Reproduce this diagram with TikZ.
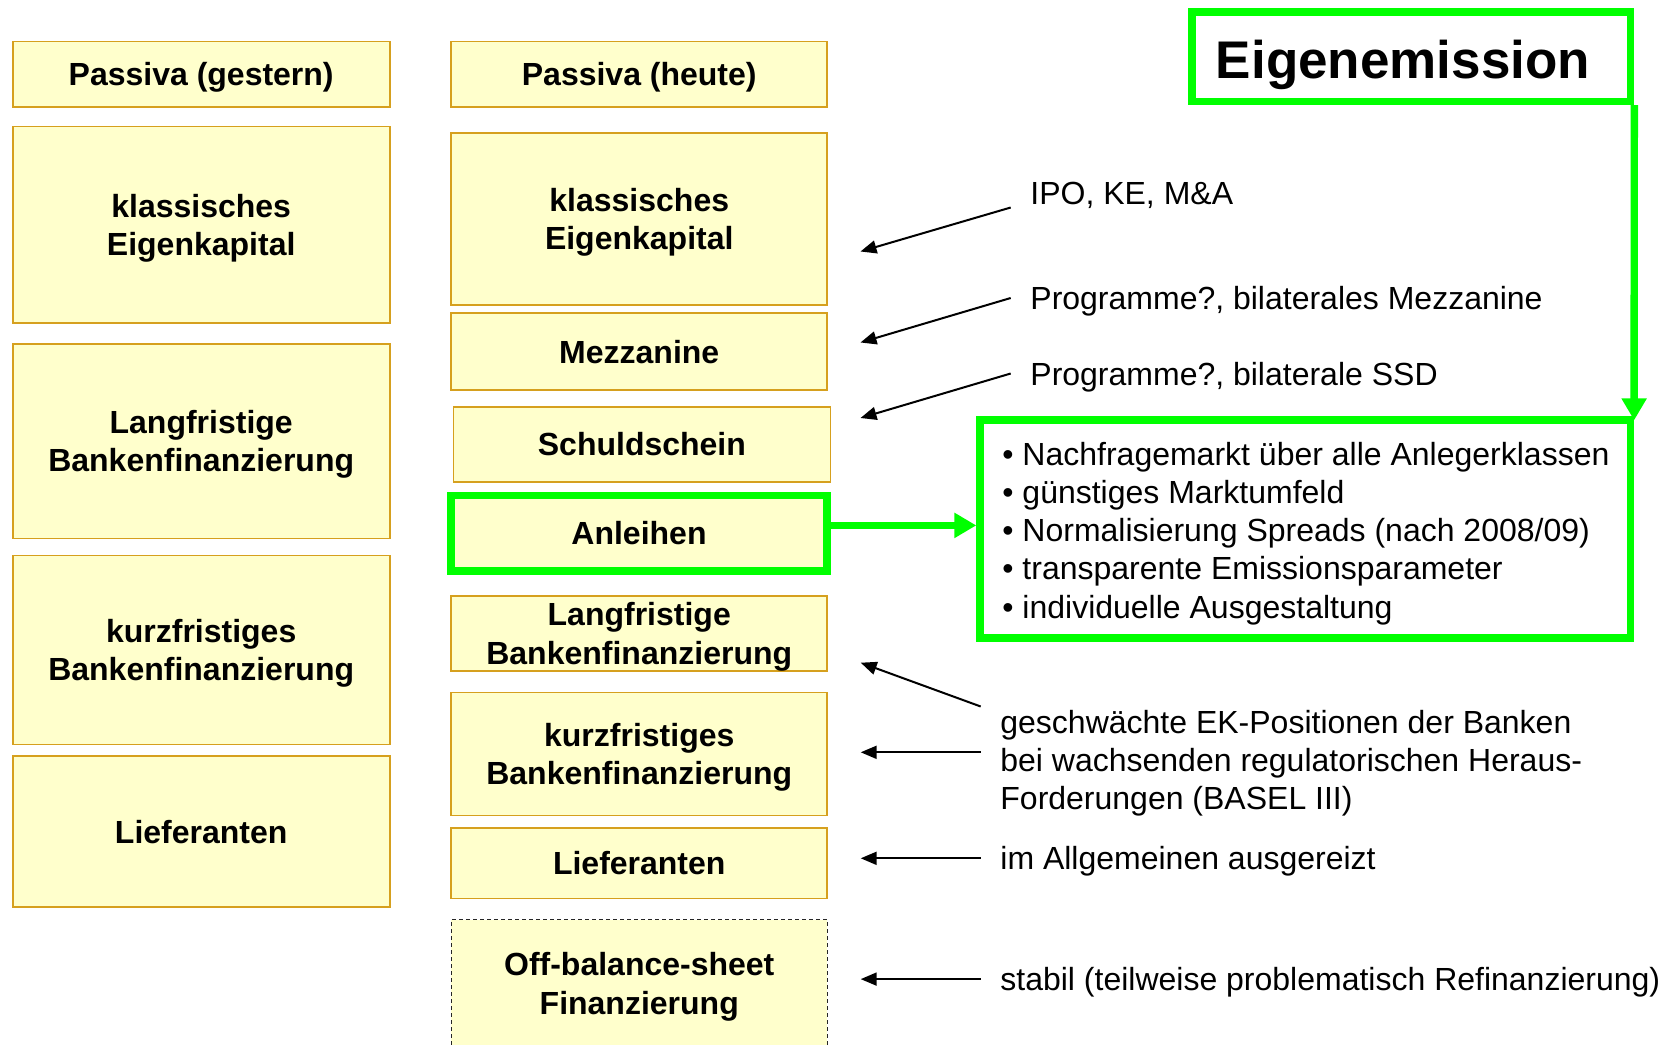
\documentclass[tikz,border=0pt]{standalone}
\usepackage{fontspec}
\setmainfont{Liberation Sans}
\usetikzlibrary{arrows.meta}
\definecolor{boxfill}{RGB}{255,255,204}
\definecolor{boxline}{RGB}{214,160,30}
\definecolor{grn}{RGB}{0,255,0}
\tikzset{
  pbox/.style={draw=boxline, line width=0.85pt, fill=boxfill, inner sep=0pt, align=center,
     text depth=-1.2pt, font=\bfseries\fontsize{16}{19.1}\selectfont},
  lcol/.style={pbox, minimum width=188.5pt},
  mcol/.style={pbox, minimum width=187.95pt},
  greenbox/.style={draw=grn, line width=3.8pt},
  lbl/.style={anchor=base west, inner sep=0pt, font=\fontsize{16}{19.1}\selectfont},
  barrow/.style={line width=1pt, -{Triangle[length=8pt,width=6.5pt]}},
  garrow/.style={draw=grn, line width=3.7pt, -{Triangle[length=11pt,width=12pt]}}
}
\begin{document}
\begin{tikzpicture}[x=0.5pt,y=-0.5pt]
\useasboundingbox (0,0) rectangle (1665,1044);
% left column
\node[lcol, minimum height=32.95pt] (LP) at (201.2,74.35) {Passiva (gestern)};
\node[lcol, minimum height=98.2pt] (LK) at (201.2,224.6) {klassisches\\Eigenkapital};
\node[lcol, minimum height=97.2pt] (LL) at (201.2,441.2) {Langfristige\\Bankenfinanzierung};
\node[lcol, minimum height=94.5pt] (LS) at (201.2,649.9) {kurzfristiges\\Bankenfinanzierung};
\node[lcol, minimum height=75.45pt] (LLi) at (201.2,831.45) {Lieferanten};
% middle column
\node[mcol, minimum height=32.95pt] (MP) at (639.25,74.35) {Passiva (heute)};
\node[mcol, minimum height=86.05pt] (MK) at (639.25,218.75) {klassisches\\Eigenkapital};
\node[mcol, minimum height=38.2pt] (MM) at (639.25,351.5) {Mezzanine};
\node[pbox, minimum width=188.5pt, minimum height=37.7pt] (MS) at (641.9,444.4) {Schuldschein};
\node[pbox, greenbox, minimum width=188.2pt, minimum height=37.85pt] (MA) at (639,533.4) {Anleihen};
\node[mcol, minimum height=37.7pt] (ML) at (639.25,633.4) {Langfristige\\Bankenfinanzierung};
\node[mcol, minimum height=61.55pt] (MKu) at (639.25,753.95) {kurzfristiges\\Bankenfinanzierung};
\node[mcol, minimum height=35.05pt] (MLi) at (639.25,863.35) {Lieferanten};
\node[mcol, draw=black!85, line width=0.6pt, dash pattern=on 2pt off 1.5pt, minimum height=63.7pt] (MO) at (639.25,983.3) {Off-balance-sheet\\Finanzierung};
% Eigenemission
\node[greenbox, fill=white, inner sep=0pt, minimum width=219.4pt, minimum height=44.8pt] (E) at (1411.1,56.5) {};
\node[anchor=base, inner sep=0pt, font=\bfseries\fontsize{26.5}{32}\selectfont] (Etxt) at (1403,78.3) {Eigenemission};
% bullet box
\node[greenbox, fill=white, inner sep=0pt, minimum width=325.1pt, minimum height=108.9pt] (B) at (1305.2,529) {};
\node[lbl] (b1) at (1002,465) {• Nachfragemarkt über alle Anlegerklassen};
\node[lbl] (b2) at (1002,503.25) {• günstiges Marktumfeld};
\node[lbl] (b3) at (1002,541.5) {• Normalisierung Spreads (nach 2008/09)};
\node[lbl] (b4) at (1002,579.75) {• transparente Emissionsparameter};
\node[lbl] (b5) at (1002,618) {• individuelle Ausgestaltung};
% green connectors
\draw[garrow] (E.south east) -- ([yshift=-2pt]B.north east);
\draw[garrow] ([yshift=4pt]MA.east) -- ([yshift=4pt]MA.east -| B.west);
% labels
\node[lbl] (t1) at (1030,204) {IPO, KE, M\&A};
\node[lbl] (t2) at (1030,309) {Programme?, bilaterales Mezzanine};
\node[lbl] (t3) at (1030,385) {Programme?, bilaterale SSD};
\node[lbl] (g1) at (1000,733) {geschwächte EK-Positionen der Banken};
\node[lbl] (g2) at (1000,771.5) {bei wachsenden regulatorischen Heraus-};
\node[lbl] (g3) at (1000,809.5) {Forderungen (BASEL III)};
\node[lbl] (t5) at (1000,869) {im Allgemeinen ausgereizt};
\node[lbl] (t6) at (1000,990) {stabil (teilweise problematisch Refinanzierung)};
% black arrows
\coordinate (a1s) at (1010.7,207.5); \coordinate (a1t) at (860.5,251.5);
\coordinate (a2s) at (1010.7,298);   \coordinate (a2t) at (860.5,342.5);
\coordinate (a3s) at (1010.7,373.5); \coordinate (a3t) at (860.5,418);
\coordinate (a4s) at (980.7,706.5);  \coordinate (a4t) at (860.7,662.7);
\coordinate (a5s) at (980.7,752.3);  \coordinate (a5t) at (860.7,752.3);
\coordinate (a6s) at (980.7,858.3);  \coordinate (a6t) at (860.7,858.3);
\coordinate (a7s) at (980.7,979.1);  \coordinate (a7t) at (860.7,979.1);
\foreach \i in {1,...,7} { \draw[barrow] (a\i s) -- (a\i t); }
\end{tikzpicture}
\end{document}
